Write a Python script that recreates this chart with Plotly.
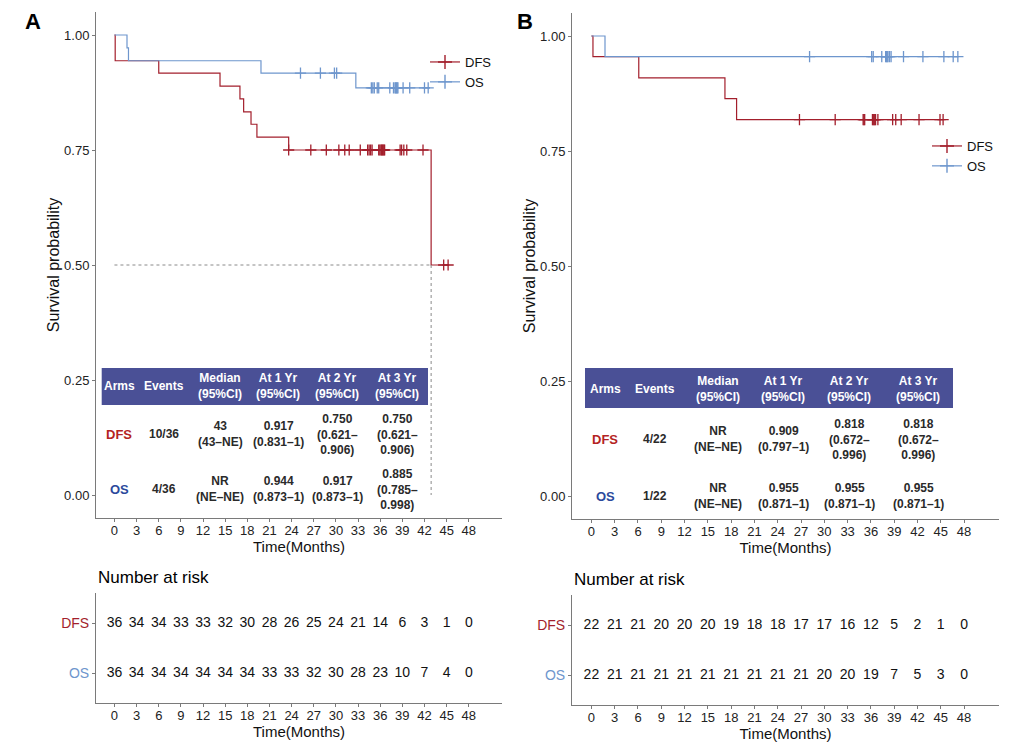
import plotly.graph_objects as go

# ---- data ----
# Panel A: Kaplan-Meier steps (time in months, survival)
dfs_a_t = [0, 0.1, 6.0, 14.3, 17.0, 17.5, 18.5, 19.3, 23.6, 42.9, 45.2]
dfs_a_s = [1.0, 0.944, 0.917, 0.889, 0.861, 0.833, 0.806, 0.778, 0.750, 0.500, 0.500]
dfs_a_cens = [23.6, 26.6, 28.7, 30.4, 31.2, 31.8, 33.3, 34.3, 34.5, 34.7, 34.9, 35.8, 35.95,
              36.1, 36.2, 36.3, 36.4, 36.5, 36.6, 38.7, 38.9, 39.2, 39.6, 41.8, 44.6, 45.2]
os_a_t = [0, 1.7, 1.9, 19.85, 32.7, 42.7]
os_a_s = [1.0, 0.972, 0.944, 0.917, 0.885, 0.885]
os_a_cens = [25.2, 27.9, 29.8, 30.1, 34.8, 35.0, 35.2, 35.6, 35.8, 37.3, 37.8, 38.0, 38.1,
             38.2, 38.3, 38.4, 39.1, 40.0, 42.0, 42.5]

# Panel B
dfs_b_t = [0, 0.2, 6.1, 17.2, 18.7, 45.3]
dfs_b_s = [1.0, 0.955, 0.909, 0.864, 0.818, 0.818]
dfs_b_cens = [26.8, 31.4, 35.0, 35.1, 35.2, 36.2, 36.3, 36.4, 36.5, 36.6, 36.9, 38.8, 39.2,
              39.9, 42.2, 44.9, 45.3]
os_b_t = [0, 1.75, 47.2]
os_b_s = [1.0, 0.955, 0.955]
os_b_cens = [28.1, 36.1, 36.3, 37.4, 37.9, 38.0, 38.1, 38.2, 38.4, 38.6, 40.2, 42.7, 45.4,
             46.6, 47.2]

# number at risk
risk_times = [0, 3, 6, 9, 12, 15, 18, 21, 24, 27, 30, 33, 36, 39, 42, 45, 48]
risk_a_dfs = [36, 34, 34, 33, 33, 32, 30, 28, 26, 25, 24, 21, 14, 6, 3, 1, 0]
risk_a_os = [36, 34, 34, 34, 34, 34, 34, 33, 33, 32, 30, 28, 23, 10, 7, 4, 0]
risk_b_dfs = [22, 21, 21, 20, 20, 20, 19, 18, 18, 17, 17, 16, 12, 5, 2, 1, 0]
risk_b_os = [22, 21, 21, 21, 21, 21, 21, 21, 21, 21, 20, 20, 19, 7, 5, 3, 0]

# summary tables
table_header = ["Arms", "Events", "Median<br>(95%CI)", "At 1 Yr<br>(95%CI)",
                "At 2 Yr<br>(95%CI)", "At 3 Yr<br>(95%CI)"]
table_a_dfs = ["DFS", "10/36", "43<br>(43–NE)", "0.917<br>(0.831–1)",
               "0.750<br>(0.621–<br>0.906)", "0.750<br>(0.621–<br>0.906)"]
table_a_os = ["OS", "4/36", "NR<br>(NE–NE)", "0.944<br>(0.873–1)",
              "0.917<br>(0.873–1)", "0.885<br>(0.785–<br>0.998)"]
table_b_dfs = ["DFS", "4/22", "NR<br>(NE–NE)", "0.909<br>(0.797–1)",
               "0.818<br>(0.672–<br>0.996)", "0.818<br>(0.672–<br>0.996)"]
table_b_os = ["OS", "1/22", "NR<br>(NE–NE)", "0.955<br>(0.871–1)",
              "0.955<br>(0.871–1)", "0.955<br>(0.871–1)"]

# ---- styling ----
W, H = 1033, 742
FONT = "Liberation Sans, Arial, sans-serif"
RED = "#A31F2C"
BLUE = "#6E96CD"
LAB_RED = "#B42323"
LAB_BLUE = "#2B4A9C"
HEAD = "#4A5096"
AXIS = "#7a7a7a"


def px(x):
    return x / W


def py(y):
    return 1 - y / H


def surv_at(times, surv, t):
    s = surv[0]
    for ti, si in zip(times, surv):
        if ti <= t:
            s = si
    return s


fig = go.Figure()


def add_km(times, surv, cens, color, name, xa, ya, legend):
    fig.add_trace(go.Scatter(
        x=times, y=surv, mode="lines", line=dict(color=color, width=1.2, shape="hv"),
        xaxis=xa, yaxis=ya, showlegend=False, hoverinfo="skip"))
    fig.add_trace(go.Scatter(
        x=cens, y=[surv_at(times, surv, t) for t in cens], mode="markers",
        marker=dict(symbol="cross-thin", size=8, line=dict(color=color, width=1.3)),
        xaxis=xa, yaxis=ya, showlegend=False, hoverinfo="skip"))
    # legend-only entry
    fig.add_trace(go.Scatter(
        x=[None], y=[None], mode="lines+markers", name=name,
        line=dict(color=color, width=1.2),
        marker=dict(symbol="cross-thin", size=10, line=dict(color=color, width=1.4)),
        xaxis=xa, yaxis=ya, legend=legend))


# medians (dotted guide) for panel A DFS
med_a = next(t for t, s in zip(dfs_a_t, dfs_a_s) if s <= 0.5)
fig.add_shape(type="line", xref="x", yref="y", x0=0, x1=med_a, y0=0.5, y1=0.5,
              line=dict(color="#8a8a8a", width=1, dash="dot"))
fig.add_shape(type="line", xref="x", yref="y", x0=med_a, x1=med_a, y0=0.5, y1=0,
              line=dict(color="#8a8a8a", width=1, dash="dot"))

add_km(dfs_a_t, dfs_a_s, dfs_a_cens, RED, "DFS", "x", "y", "legend")
add_km(os_a_t, os_a_s, os_a_cens, BLUE, "OS", "x", "y", "legend")
add_km(dfs_b_t, dfs_b_s, dfs_b_cens, RED, "DFS", "x2", "y2", "legend2")
add_km(os_b_t, os_b_s, os_b_cens, BLUE, "OS", "x2", "y2", "legend2")

# number at risk rows
for counts, row, xa, ya in [(risk_a_dfs, 2, "x3", "y3"), (risk_a_os, 1, "x3", "y3"),
                            (risk_b_dfs, 2, "x4", "y4"), (risk_b_os, 1, "x4", "y4")]:
    fig.add_trace(go.Scatter(
        x=risk_times, y=[row] * len(risk_times), mode="text", text=[str(n) for n in counts],
        textfont=dict(size=14, color="#111111", family=FONT), textposition="middle center",
        xaxis=xa, yaxis=ya, showlegend=False, hoverinfo="skip"))

# summary tables drawn as header band + text
annotations = []


def note(x, y, text, size, color, xanchor="center"):
    annotations.append(dict(x=px(x), y=py(y), xref="paper", yref="paper", text=text,
                            showarrow=False, xanchor=xanchor, yanchor="middle",
                            font=dict(size=size, color=color, family=FONT)))


def add_table(col_x, head_y, row_y, rect, rows):
    x0, x1, y0, y1 = rect
    fig.add_shape(type="rect", xref="paper", yref="paper", x0=px(x0), x1=px(x1),
                  y0=py(y1), y1=py(y0), fillcolor=HEAD, line=dict(width=0), layer="above")
    for cx, h in zip(col_x, table_header):
        note(cx, head_y, "<b>" + h + "</b>", 12, "white")
    for ry, cells, lab_color in zip(row_y, rows, [LAB_RED, LAB_BLUE]):
        for i, (cx, c) in enumerate(zip(col_x, cells)):
            note(cx, ry, "<b>" + c + "</b>", 12 if i else 13,
                 lab_color if i == 0 else "#2a2a2a")


add_table([119, 164, 220, 278, 337, 397], 386, [434, 489], (101.7, 428, 368, 405),
          [table_a_dfs, table_a_os])
add_table([605, 655, 718, 783, 849, 918], 389, [439, 496], (585, 953, 368, 408),
          [table_b_dfs, table_b_os])

note(33, 22, "<b>A</b>", 22, "black")
note(525, 22, "<b>B</b>", 22, "black")
note(96, 577, "Number at risk", 17, "black", xanchor="left")
note(572, 579, "Number at risk", 17, "black", xanchor="left")

ticks = list(range(0, 49, 3))
common = dict(showline=True, linecolor=AXIS, linewidth=1, ticks="outside", ticklen=3,
              tickcolor=AXIS, showgrid=False, zeroline=False,
              tickfont=dict(size=13, color="#222222", family=FONT))
xcommon = dict(common, range=[-2.5, 52.5], tickvals=ticks, ticktext=[str(t) for t in ticks],
               ticklabelstandoff=-3,
               title=dict(text="Time(Months)", font=dict(size=15, color="#111111", family=FONT),
                          standoff=2))
ycommon = dict(common, range=[-0.05, 1.05], tickvals=[0, 0.25, 0.5, 0.75, 1.0],
               ticktext=["0.00", "0.25", "0.50", "0.75", "1.00"],
               title=dict(text="Survival probability", font=dict(size=16, color="#111111", family=FONT),
                          standoff=0))
risk_y = dict(common, range=[0.4, 2.6], tickvals=[2, 1],
              ticktext=["<span style='color:%s'>DFS</span>" % RED,
                        "<span style='color:%s'>OS</span>" % BLUE],
              tickfont=dict(size=14, family=FONT))

legend_style = dict(bgcolor="rgba(0,0,0,0)", font=dict(size=13, color="#111111", family=FONT),
                    xanchor="left", yanchor="top", tracegroupgap=0, itemwidth=30)

fig.update_layout(
    width=W, height=H, margin=dict(l=0, r=0, t=0, b=0),
    plot_bgcolor="white", paper_bgcolor="white",
    font=dict(family=FONT),
    xaxis=dict(xcommon, domain=[px(96), px(502)], anchor="y"),
    yaxis=dict(ycommon, domain=[py(518), py(12)], anchor="x"),
    xaxis2=dict(xcommon, domain=[px(572), px(999)], anchor="y2"),
    yaxis2=dict(ycommon, domain=[py(519), py(13)], anchor="x2"),
    xaxis3=dict(xcommon, domain=[px(96), px(502)], anchor="y3"),
    yaxis3=dict(risk_y, domain=[py(703), py(593)], anchor="x3"),
    xaxis4=dict(xcommon, domain=[px(572), px(999)], anchor="y4"),
    yaxis4=dict(risk_y, domain=[py(705), py(595)], anchor="x4"),
    legend=dict(legend_style, x=px(425), y=py(47)),
    legend2=dict(legend_style, x=px(927), y=py(131)),
    annotations=annotations,
)

fig.write_html("out.html", config={"displayModeBar": False},
               post_script="document.body.style.margin='0px';")
